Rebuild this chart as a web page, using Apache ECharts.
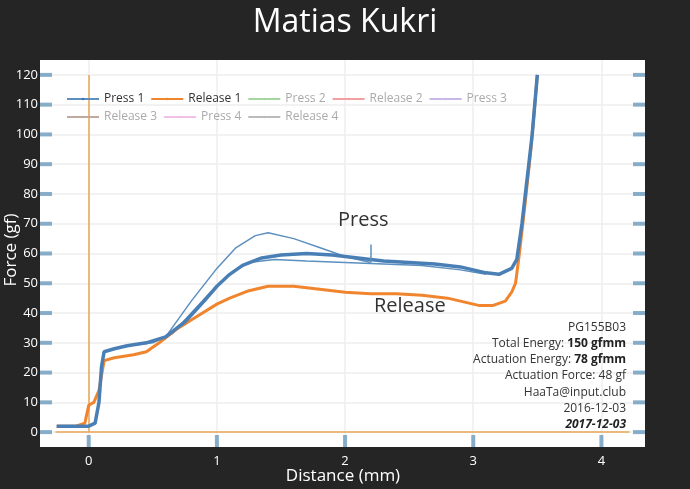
<!DOCTYPE html><html><head><meta charset="utf-8"><script src="https://cdn.jsdelivr.net/npm/echarts@6/dist/echarts.min.js"></script>
<style>html,body{margin:0;background:#252525}#c{width:690px;height:489px}</style></head><body><div id="c"></div><script>
const xTicks=[0,1,2,3,4];
const yTicks=[0,10,20,30,40,50,60,70,80,90,100,110,120];
const press1=[[-0.25,2],[-0.1,2],[0.0,2],[0.05,3],[0.08,10],[0.1,22],[0.12,27],[0.2,28],[0.3,29],[0.45,30],[0.6,32],[0.75,37],[0.9,44],[1.0,49],[1.1,53],[1.2,56],[1.35,58.5],[1.5,59.5],[1.7,60],[1.9,59.5],[2.1,58.5],[2.3,57.5],[2.5,57],[2.7,56.5],[2.9,55.5],[3.0,54.5],[3.1,53.5],[3.2,53],[3.3,55],[3.34,58],[3.38,70],[3.42,85],[3.46,100],[3.5,120]];
const press1b=[[0.3,29],[0.5,30],[0.65,33],[0.8,40],[0.95,47],[1.1,53],[1.25,57],[1.45,58],[1.7,57.5],[2.0,57],[2.3,56.5],[2.6,56],[2.9,54.5],[3.1,53]];
const press1c=[[0.6,32],[0.8,44],[1.0,55],[1.15,62],[1.3,66],[1.4,67],[1.6,65],[1.8,62],[2.0,59],[2.2,57]];
const release1=[[3.5,120],[3.45,95],[3.4,75],[3.36,60],[3.33,50],[3.3,47],[3.25,44],[3.15,42.5],[3.05,42.5],[2.95,43.5],[2.8,45],[2.6,46],[2.4,46.5],[2.2,46.5],[2.0,47],[1.8,48],[1.6,49],[1.4,49],[1.25,47.5],[1.1,45],[1.0,43],[0.85,39],[0.7,35],[0.55,30],[0.45,27],[0.35,26],[0.2,25],[0.12,24],[0.08,14],[0.04,10],[0.0,9],[-0.03,3],[-0.1,2],[-0.25,2]];
const hiddenNames=['Press 2','Release 2','Press 3','Release 3','Press 4','Release 4'];
const hiddenColors=['#a6d6a0','#f0a0a0','#c8b8e8','#c0aaa0','#f0c0e8','#bbbbbb'];
const X_MIN=-0.38,X_MAX=4.34,Y_MIN=-5,Y_MAX=125;
const blue='#3f73a8',orange='#f0852d',tickC='#6a9abd';
const c=echarts.init(document.getElementById('c'));
const gridLines=[...xTicks.map(v=>({xAxis:v})),...yTicks.map(v=>({yAxis:v}))];
const tickSeries=(data,size,offset)=>({type:'scatter',silent:true,data,symbol:'rect',symbolSize:size,symbolOffset:offset,itemStyle:{color:tickC},z:5});
c.setOption({backgroundColor:'#252525',animation:false,
title:{text:'Matias Kukri',left:'center',top:2,textStyle:{color:'#fff',fontSize:32,fontWeight:'normal',fontFamily:'Open Sans'}},
grid:{left:40,right:45,top:60,bottom:42,show:true,backgroundColor:'#fff',borderWidth:0,containLabel:false,outerBoundsMode:'none'},
legend:{left:66,top:93,width:480,itemWidth:32,itemHeight:3,itemGap:6,padding:0,
 textStyle:{color:'#333',fontSize:12,fontFamily:'Open Sans',padding:[0,10,0,0]},
 data:['Press 1','Release 1',...hiddenNames.map(n=>({name:n,textStyle:{color:'#aaa'}}))]},
xAxis:{type:'value',min:X_MIN,max:X_MAX,
 axisLine:{show:false},splitLine:{show:false},axisTick:{show:false},
 axisLabel:{color:'#fff',fontSize:13,margin:8,customValues:xTicks,fontFamily:'Open Sans'}},
yAxis:{type:'value',min:Y_MIN,max:Y_MAX,
 axisLine:{show:false},splitLine:{show:false},axisTick:{show:false},
 axisLabel:{color:'#fff',fontSize:13,margin:2,customValues:yTicks,fontFamily:'Open Sans'}},
series:[
 {type:'line',data:[],silent:true,z:0,markLine:{silent:true,z:0,symbol:'none',label:{show:false},lineStyle:{color:'#eeeeee',width:1.5,type:'solid'},data:gridLines}},
 {type:'line',data:[],silent:true,z:1,markLine:{silent:true,z:1,symbol:'none',label:{show:false},lineStyle:{color:'#e8a657',width:1.5,type:'solid'},
  data:[[{coord:[-0.26,0]},{coord:[4.22,0]}],[{coord:[0,0]},{coord:[0,120]}]]}},
 tickSeries(yTicks.map(v=>[X_MIN,v]),[12,4],[6,0]),
 tickSeries(yTicks.map(v=>[X_MAX,v]),[12,4],[-6,0]),
 tickSeries(xTicks.map(v=>[v,Y_MIN]),[4,12],[0,-6]),
 {type:'line',name:'Press 1',data:press1c,symbol:'none',lineStyle:{color:'#5d8fbf',width:1.5},itemStyle:{color:blue}},
 {type:'line',name:'Press 1',data:press1b,symbol:'none',lineStyle:{color:'#5d8fbf',width:1.5},itemStyle:{color:blue}},
 {type:'line',name:'Release 1',data:release1,symbol:'none',lineStyle:{color:orange,width:3},itemStyle:{color:orange}},
 {type:'line',name:'Press 1',data:press1,symbol:'none',lineStyle:{color:'#4a7fb5',width:3.5},itemStyle:{color:blue},
  markLine:{silent:true,symbol:'none',label:{show:false},lineStyle:{color:'#5d8fbf',width:1.5,type:'solid'},data:[[{coord:[2.2,63]},{coord:[2.2,57]}]]}},
 ...hiddenNames.map((n,i)=>({type:'line',name:n,data:[],symbol:'none',itemStyle:{color:hiddenColors[i]},lineStyle:{color:hiddenColors[i]}}))
],
graphic:[
 {type:'text',z:100,x:3,y:250,rotation:Math.PI/2,style:{text:'Force (gf)',fill:'#fff',fontSize:17,fontFamily:'Open Sans',align:'center',verticalAlign:'top'}},
 {type:'text',z:100,x:343,y:468,style:{text:'Distance (mm)',fill:'#fff',fontSize:17,fontFamily:'Open Sans',align:'center'}},
 {type:'text',z:100,x:338,y:210,style:{text:'Press',fill:'#333',fontSize:20,fontFamily:'Open Sans'}},
 {type:'text',z:100,x:374,y:296,style:{text:'Release',fill:'#333',fontSize:20,fontFamily:'Open Sans'}},
 {type:'text',z:100,x:626,y:319,style:{align:'right',lineHeight:16.3,fill:'#333',fontSize:12,fontFamily:'Open Sans',
  text:'PG155B03\nTotal Energy: {b|150 gfmm}\nActuation Energy: {b|78 gfmm}\nActuation Force: 48 gf\nHaaTa@input.club\n2016-12-03\n{bi|2017-12-03}',
  rich:{b:{fontWeight:'bold',fontSize:12,fill:'#222',fontFamily:'Open Sans'},bi:{fontWeight:'bold',fontStyle:'italic',fontSize:12,fill:'#222',fontFamily:'Open Sans'}}}}
]});
</script></body></html>
